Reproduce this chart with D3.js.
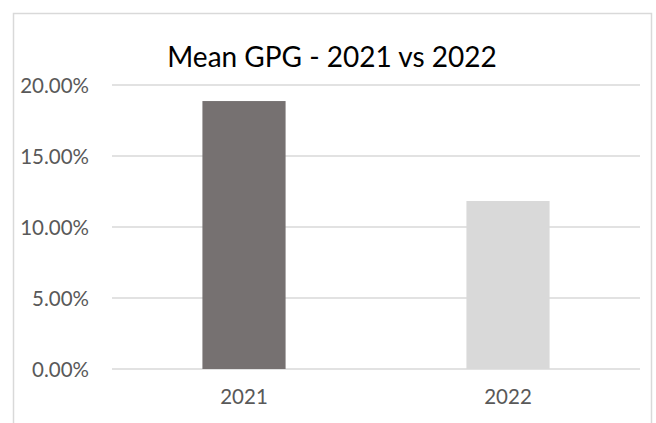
<!DOCTYPE html>
<head>
	<meta charset="utf-8">
	<script src="https://d3js.org/d3.v7.min.js"></script>
	<style>
		body { margin: 0; background: #fff; }
		svg { display: block; }
		text { font-family: Lato, "Open Sans", sans-serif; }
	</style>
</head>
<body>
<svg></svg>
<script>
	var years = ['2021', '2022'];
	var meanGpg = [0.1887, 0.1183];
	var barColors = ['#767171', '#d9d9d9'];
	var yTicks = [0, 0.05, 0.10, 0.15, 0.20];
	var title = 'Mean GPG - 2021 vs 2022';

	var width = 656, height = 423;
	var plot = {left: 112, right: 640, top: 85, bottom: 369};

	var svg = d3.select('svg').attr('width', width).attr('height', height);

	// chart area border (bottom edge falls outside the picture)
	svg.append('rect')
		.attr('x', 13.5).attr('y', 13.5)
		.attr('width', 638).attr('height', 430)
		.attr('fill', 'none')
		.attr('stroke', '#d9d9d9')
		.attr('stroke-width', 1.5);

	var x = d3.scaleBand().domain(years).range([plot.left, plot.right]).padding(0);
	var y = d3.scaleLinear().domain([0, 0.20]).range([plot.bottom, plot.top]);
	var barW = x.bandwidth() * 0.315;

	/* --------- GRID ---------*/
	svg.append('g').selectAll('line').data(yTicks).enter()
		.append('line')
		.attr('x1', plot.left).attr('x2', plot.right)
		.attr('y1', function (d) { return y(d); })
		.attr('y2', function (d) { return y(d); })
		.attr('stroke', '#d9d9d9')
		.attr('stroke-width', 1.5);

	/* --------- BARS ---------*/
	svg.append('g').selectAll('rect').data(years).enter()
		.append('rect')
		.attr('x', function (d) { return x(d) + x.bandwidth() / 2 - barW / 2; })
		.attr('y', function (d, i) { return y(meanGpg[i]); })
		.attr('width', barW)
		.attr('height', function (d, i) { return y(0) - y(meanGpg[i]); })
		.attr('fill', function (d, i) { return barColors[i]; });

	/* --------- AXES ---------*/
	var yAxis = svg.append('g')
		.attr('transform', 'translate(' + (plot.left - 23) + ',0)')
		.call(d3.axisLeft(y).tickValues(yTicks).tickSize(0).tickPadding(0).tickFormat(d3.format('.2%')));
	yAxis.select('.domain').remove();
	yAxis.selectAll('text').attr('fill', '#595959').attr('font-size', 20.5).attr('dy', '0.35em');

	var xAxis = svg.append('g')
		.attr('transform', 'translate(0,' + plot.bottom + ')')
		.call(d3.axisBottom(x).tickSize(0).tickPadding(20));
	xAxis.select('.domain').remove();
	xAxis.selectAll('text').attr('fill', '#595959').attr('font-size', 20.5).attr('dy', '0.71em');

	/* --------- TITLE ---------*/
	svg.append('text')
		.attr('x', 332).attr('y', 67)
		.attr('text-anchor', 'middle')
		.attr('fill', '#000')
		.attr('font-size', 28)
		.text(title);
</script>
</body>
